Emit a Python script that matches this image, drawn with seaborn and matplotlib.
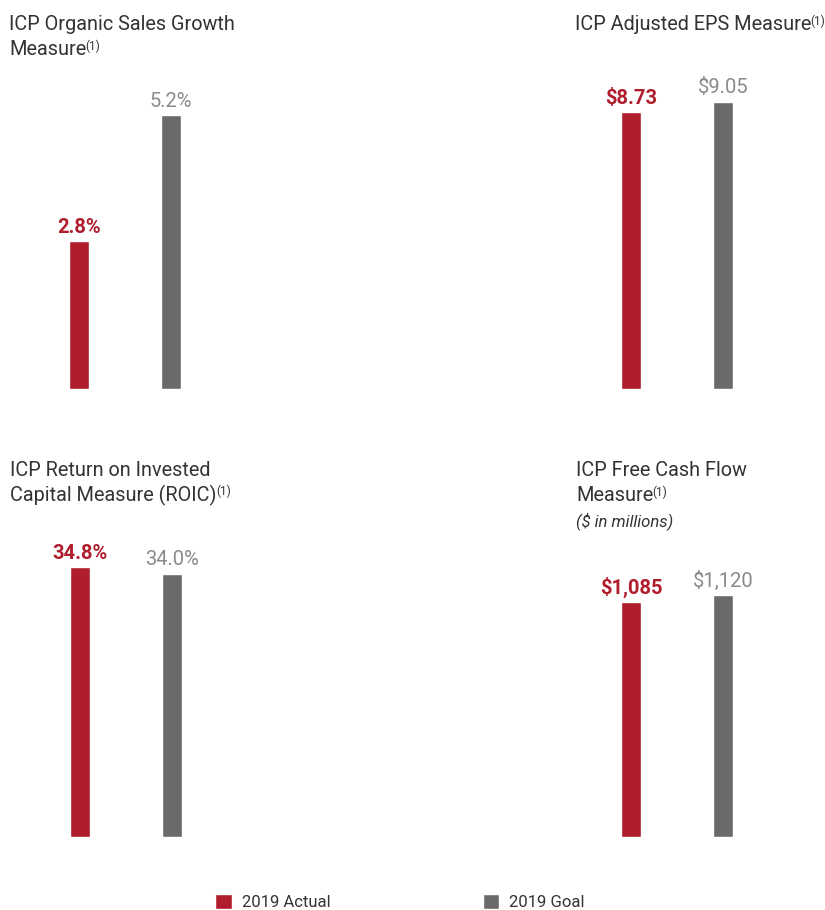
import matplotlib
matplotlib.use("Agg")
import matplotlib.pyplot as plt
from matplotlib.patches import Patch
import seaborn as sns
import pandas as pd

sns.set_style("white")
plt.rcParams['font.family'] = ['Roboto', 'DejaVu Sans']

# data
series = ["2019 Actual", "2019 Goal"]
organic_sales = [2.8, 5.2]
organic_labels = ["2.8%", "5.2%"]
adj_eps = [8.73, 9.05]
adj_eps_labels = ["$8.73", "$9.05"]
roic = [34.8, 34.0]
roic_labels = ["34.8%", "34.0%"]
fcf = [1085, 1120]
fcf_labels = ["$1,085", "$1,120"]

RED = "#B01E2E"
GRAY = "#6A6A6B"
LABEL_GRAY = "#8A8A8A"
TEXT = "#333333"
palette = {series[0]: RED, series[1]: GRAY}

W, H = 825, 910
fig = plt.figure(figsize=(W / 100, H / 100), dpi=100)
overlay = fig.add_axes([0, 0, 1, 1])
overlay.axis("off")
overlay.set_xlim(0, W)
overlay.set_ylim(H, 0)


def panel(values, labels, cx0, baseline, scale, height=330):
    # axes in pixel units: bars at 0 and 1, 92 px apart
    left = cx0 - 46
    ax = fig.add_axes([left / W, 1 - baseline / H, 184 / W, height / H])
    df = pd.DataFrame({"series": series, "value": values})
    sns.barplot(data=df, x="series", y="value", hue="series", palette=palette,
                width=0.217, errorbar=None, legend=False, saturation=1, ax=ax)
    ax.set_xlim(-0.5, 1.5)
    ax.set_ylim(0, height / scale)
    ax.axis("off")
    for i, cont in enumerate(ax.containers):
        if i == 0:
            ax.bar_label(cont, labels=[labels[i]], padding=3, color=RED,
                         fontsize=14.5, fontweight="bold")
        else:
            ax.bar_label(cont, labels=[labels[i]], padding=3, color=LABEL_GRAY,
                         fontsize=14.5, fontweight="normal")
    return ax


def title(x, y, text, sup=False, size=14.3, style="normal"):
    t = overlay.text(x, y, text, ha="left", va="baseline", fontsize=size,
                     color=TEXT, fontstyle=style)
    if sup:
        overlay.annotate("(1)", xy=(1, 1), xycoords=t, xytext=(-0.5, 0),
                         textcoords="offset points", ha="left", va="top",
                         fontsize=8.5, color=TEXT)
    return t


panel(organic_sales, organic_labels, 79, 389, 52.7)
panel(adj_eps, adj_eps_labels, 631, 389, 31.75)
panel(roic, roic_labels, 80, 837, 7.75)
panel(fcf, fcf_labels, 631, 837, 0.2163)

title(9, 30, "ICP Organic Sales Growth")
title(9, 55, "Measure", sup=True)
title(575, 30, "ICP Adjusted EPS Measure", sup=True)
title(10, 476, "ICP Return on Invested")
title(10, 501, "Capital Measure (ROIC)", sup=True)
title(576, 476, "ICP Free Cash Flow")
title(576, 501, "Measure", sup=True)
title(576, 526, "($ in millions)", size=12, style="italic")

handles = [Patch(facecolor=RED, label=series[0]), Patch(facecolor=GRAY, label=series[1])]
fig.legend(handles=handles, ncol=2, loc="center", bbox_to_anchor=(400 / W, 1 - 902 / H),
           frameon=False, fontsize=12, handlelength=1.0, handleheight=1.0,
           handletextpad=0.6, columnspacing=9.15, labelcolor=TEXT)

plt.savefig("out.png", dpi=100)
